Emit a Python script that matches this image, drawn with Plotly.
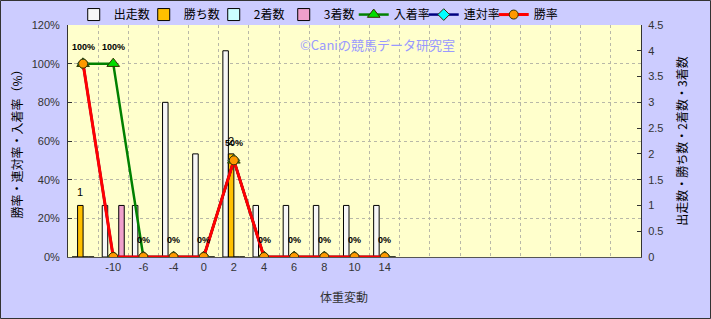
import plotly.graph_objects as go

# Weight-change categories (kg); trailing slots are empty columns on the axis
categories = ["", "-10", "-6", "-4", "0", "2", "4", "6", "8", "10", "14",
              "", "", "", "", "", "", "", ""]

# Counts (right axis)
starts = [0, 1, 1, 3, 2, 4, 1, 1, 1, 1, 1]
wins = [1, 0, 0, 0, 0, 2, 0, 0, 0, 0, 0]
seconds = [0, 0, 0, 0, 0, 0, 0, 0, 0, 0, 0]
thirds = [0, 1, 0, 0, 0, 0, 0, 0, 0, 0, 0]

# Rates in percent (left axis)
show_rate = [100, 100, 0, 0, 0, 50, 0, 0, 0, 0, 0]
quinella_rate = [100, 0, 0, 0, 0, 50, 0, 0, 0, 0, 0]
win_rate = [100, 0, 0, 0, 0, 50, 0, 0, 0, 0, 0]

n = len(starts)
xs = list(range(n))

JP = "Noto Sans CJK JP"
NUM = "Liberation Sans"

fig = go.Figure()

bar_specs = [
    ("出走数", starts, "#F7F7F7"),
    ("勝ち数", wins, "#FFC000"),
    ("2着数", seconds, "#CCFFFF"),
    ("3着数", thirds, "#F0A0CC"),
]
for name, vals, color in bar_specs:
    fig.add_trace(go.Bar(
        x=xs, y=vals, name=name, yaxis="y",
        marker=dict(color=color, line=dict(color="#000000", width=1)),
    ))

line_specs = [
    ("入着率", show_rate, "#008000", 2.5, "triangle-up", 11, "#00DD00"),
    ("連対率", quinella_rate, "#000080", 2.5, "diamond", 9, "#00FFFF"),
    ("勝率", win_rate, "#FF0000", 3, "circle", 9, "#FF9900"),
]
for name, vals, color, w, sym, size, mcol in line_specs:
    fig.add_trace(go.Scatter(
        x=xs, y=vals, name=name, yaxis="y2", mode="lines+markers",
        line=dict(color=color, width=w),
        marker=dict(symbol=sym, size=size, color=mcol,
                    line=dict(color="#333300", width=1)),
    ))

annotations = []
# rate labels above the 入着率 points
for x, v in zip(xs, show_rate):
    annotations.append(dict(
        x=x, y=v, xref="x", yref="y2", text=f"{v}%", showarrow=False,
        yshift=17, font=dict(family=NUM, size=9, color="#000000", weight="bold"),
    ))
# count labels above non-zero win bars
for x, v in zip(xs, wins):
    if v:
        annotations.append(dict(
            x=x - 0.09, y=v, xref="x", yref="y", text=str(v), showarrow=False,
            yshift=13, font=dict(family=NUM, size=11, color="#000000"),
        ))
# watermark
annotations.append(dict(
    x=0.541, y=0.914, xref="paper", yref="paper", showarrow=False,
    yanchor="middle",
    text="©Caniの競馬データ研究室",
    font=dict(family=JP, size=13, color="#9999FF"),
))
# x axis title
annotations.append(dict(
    x=0.482, y=-0.172, xref="paper", yref="paper", showarrow=False,
    yanchor="middle",
    text="体重変動", font=dict(family=JP, size=12, color="#333333"),
))

PW, PH, L, T = 573, 232, 68, 25
shapes = [dict(
    type="rect", xref="paper", yref="paper",
    x0=(0.5 - L) / PW, x1=(710.5 - L) / PW,
    y0=(T + PH - 318.5) / PH, y1=(T + PH - 0.5) / PH,
    line=dict(color="#333333", width=1), fillcolor="rgba(0,0,0,0)", layer="below",
)]

fig.update_layout(
    width=711, height=319,
    margin=dict(l=L, r=711 - L - PW, t=T, b=319 - T - PH, autoexpand=False),
    paper_bgcolor="#CCCCFF", plot_bgcolor="#FFFFCC",
    barmode="group", bargap=0.27, bargroupgap=0,
    showlegend=True,
    legend=dict(
        orientation="h", x=0.01, y=1.045, xanchor="left", yanchor="middle",
        font=dict(family=JP, size=12, color="#000000"),
        bgcolor="rgba(0,0,0,0)", itemwidth=30, traceorder="normal",
        entrywidth=25, entrywidthmode="pixels",
    ),
    xaxis=dict(
        range=[-0.5, len(categories) - 0.5],
        tickmode="array", tickvals=list(range(len(categories))), ticktext=categories,
        showgrid=False, showline=True, linecolor="#555555", linewidth=1,
        ticks="", tickfont=dict(family=NUM, size=11, color="#333333"),
        minor=dict(tick0=-0.5, dtick=1, showgrid=True, gridcolor="#B8B8A8",
                   griddash="dot", gridwidth=1),
        zeroline=False,
    ),
    yaxis=dict(
        side="right", range=[0, 4.5], dtick=0.5, showgrid=False, zeroline=False,
        showline=True, linecolor="#333333", linewidth=1,
        ticks="inside", ticklen=4, tickcolor="#333333", ticklabelstandoff=4,
        tickfont=dict(family=NUM, size=11, color="#333333"),
        title=dict(text="出走数・勝ち数・2着数・3着数",
                   font=dict(family=JP, size=12, color="#000000"), standoff=16),
    ),
    yaxis2=dict(
        overlaying="y", side="left", range=[0, 120], dtick=20, ticksuffix="%",
        showgrid=True, gridcolor="#B8B8A8", griddash="dot", gridwidth=1,
        zeroline=False, showline=True, linecolor="#333333", linewidth=1,
        ticks="inside", ticklen=4, tickcolor="#333333", ticklabelstandoff=5,
        tickfont=dict(family=NUM, size=11, color="#333333"),
        title=dict(text="勝率・連対率・入着率（%）",
                   font=dict(family=JP, size=12, color="#000000"), standoff=6),
    ),
    annotations=annotations,
    shapes=shapes,
)

fig.write_html("out.html")
